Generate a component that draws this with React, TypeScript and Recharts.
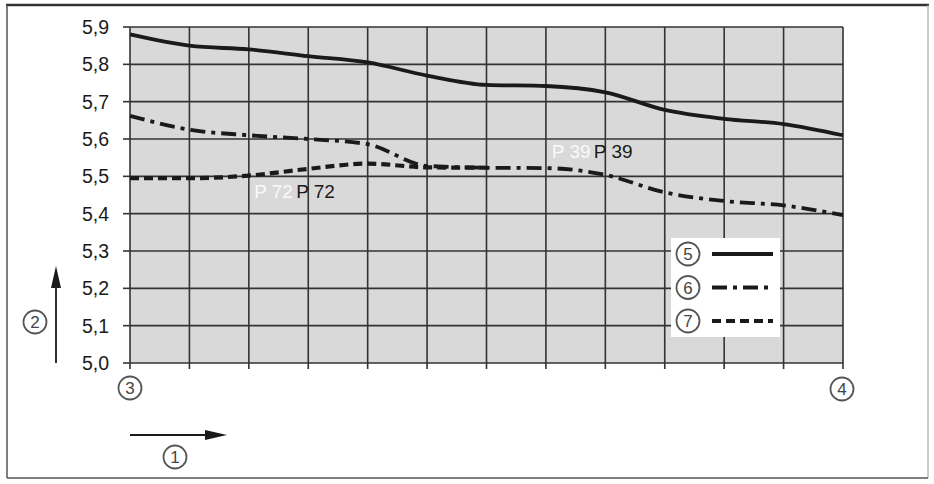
import React from 'react';
import {
  LineChart,
  Line,
  XAxis,
  YAxis,
  CartesianGrid,
  Legend,
  ReferenceDot
} from 'recharts';

// positions along the x axis (13 gridlines, 12 intervals)
const positions = [0, 1, 2, 3, 4, 5, 6, 7, 8, 9, 10, 11, 12];

// series values
const series5 = [5.88, 5.85, 5.84, 5.822, 5.805, 5.77, 5.745, 5.742, 5.725, 5.678, 5.654, 5.64, 5.61];
const series6 = [5.662, 5.625, 5.61, 5.6, 5.586, 5.528, 5.523, 5.522, 5.504, 5.457, 5.434, 5.422, 5.396];
const series7 = [5.495, 5.495, 5.502, 5.52, 5.534, 5.524, 5.523, null, null, null, null, null, null];

const yTicks = [5.0, 5.1, 5.2, 5.3, 5.4, 5.5, 5.6, 5.7, 5.8, 5.9];

// annotations: [x, y, text]
const notes: [number, number, string][] = [
  [2.09, 5.442, 'P 72'],
  [7.1, 5.549, 'P 39']
];

const seriesInfo = [
  { key: 's5', label: '5', dash: undefined as string | undefined, width: 3.8 },
  { key: 's6', label: '6', dash: '15 6 4 6', width: 3.8 },
  { key: 's7', label: '7', dash: '9 5', width: 4.2 }
];

const data = positions.map((x, i) => ({
  x,
  s5: series5[i],
  s6: series6[i],
  s7: series7[i]
}));

const FONT = '"Liberation Sans", Arial, sans-serif';
const INK = '#1a1a1a';

const Circled = ({ cx, cy, n }: { cx: number; cy: number; n: string }) => (
  <g>
    <circle cx={cx} cy={cy} r={11.5} fill="#fff" stroke="#555" strokeWidth={1.8} />
    <text x={cx} y={cy + 6} textAnchor="middle" fontSize={17} fontFamily={FONT} fill="#444">
      {n}
    </text>
  </g>
);

const LegendBox = () => (
  <div style={{ width: 109, height: 99, background: '#fff' }}>
    <svg width={109} height={99}>
      {seriesInfo.map((s, i) => {
        const y = 16 + i * 33.5;
        return (
          <g key={s.key}>
            <Circled cx={17} cy={y} n={s.label} />
            <line
              x1={41}
              x2={102}
              y1={y}
              y2={y}
              stroke={INK}
              strokeWidth={s.width}
              strokeDasharray={s.dash}
            />
          </g>
        );
      })}
    </svg>
  </div>
);

const NoteLabel = ({ viewBox, text }: any) => {
  const x = viewBox.x + viewBox.width / 2;
  const y = viewBox.y + viewBox.height / 2;
  return (
    <g fontFamily={FONT} fontSize={19}>
      <text x={x} y={y} fill="#fafafa">{text}</text>
      <text x={x + 42} y={y} fill={INK}>{text}</text>
    </g>
  );
};

export default function App() {
  return (
    <div style={{ position: 'absolute', left: 0, top: 0, width: 934, height: 484, background: '#fff' }}>
      <LineChart
        width={934}
        height={484}
        data={data}
        margin={{ top: 27, right: 91, bottom: 91, left: 80 }}
      >
        <CartesianGrid
          fill="#d9d9d9"
          fillOpacity={1}
          stroke="#333"
          strokeWidth={1.6}
          strokeOpacity={1}
        />
        <XAxis
          dataKey="x"
          type="number"
          domain={[0, 12]}
          ticks={positions}
          axisLine={false}
          tick={() => <g />}
          tickLine={{ stroke: '#333', strokeWidth: 1.6 }}
          tickSize={6}
          height={30}
        />
        <YAxis
          domain={[5.0, 5.9]}
          ticks={yTicks}
          axisLine={false}
          tickLine={{ stroke: '#333', strokeWidth: 1.6 }}
          tickSize={7}
          tickMargin={14}
          width={50}
          tick={{ fontSize: 19.5, fontFamily: FONT, fill: INK }}
          tickFormatter={(v: number) => v.toFixed(1).replace('.', ',')}
        />
        <Legend
          layout="horizontal"
          verticalAlign="middle"
          align="center"
          content={() => <LegendBox />}
          wrapperStyle={{ left: 671, top: 238, width: 109, height: 99, right: 'auto', bottom: 'auto' }}
        />
        {seriesInfo.map((s) => (
          <Line
            key={s.key}
            dataKey={s.key}
            type="monotone"
            stroke={INK}
            strokeWidth={s.width}
            strokeDasharray={s.dash}
            dot={false}
            activeDot={false}
            connectNulls={false}
            isAnimationActive={false}
            legendType="line"
          />
        ))}
        {notes.map(([x, y, text]) => (
          <ReferenceDot
            key={text}
            x={x}
            y={y}
            r={0}
            fill="none"
            stroke="none"
            label={(props: any) => <NoteLabel {...props} text={text} />}
          />
        ))}
      </LineChart>
      <svg
        width={934}
        height={484}
        style={{ position: 'absolute', left: 0, top: 0, pointerEvents: 'none' }}
      >
        {/* frame */}
        <line x1={6} y1={5} x2={929} y2={5} stroke="#333" strokeWidth={2.5} />
        <line x1={7} y1={5} x2={7} y2={478} stroke="#555" strokeWidth={1.5} />
        <line x1={928} y1={5} x2={928} y2={478} stroke="#aaa" strokeWidth={1.2} />
        <line x1={7} y1={478} x2={928} y2={478} stroke="#555" strokeWidth={1.5} />
        {/* axis arrows */}
        <line x1={56} y1={363} x2={56} y2={270} stroke={INK} strokeWidth={1.8} />
        <path d="M51,288 L56,266 L61,288 z" fill={INK} />
        <line x1={130} y1={435} x2={210} y2={435} stroke={INK} strokeWidth={1.8} />
        <path d="M205,430 L227,435 L205,440 z" fill={INK} />
        <Circled cx={35} cy={322} n="2" />
        <Circled cx={130} cy={388} n="3" />
        <Circled cx={842} cy={389} n="4" />
        <Circled cx={175} cy={457} n="1" />
      </svg>
    </div>
  );
}
